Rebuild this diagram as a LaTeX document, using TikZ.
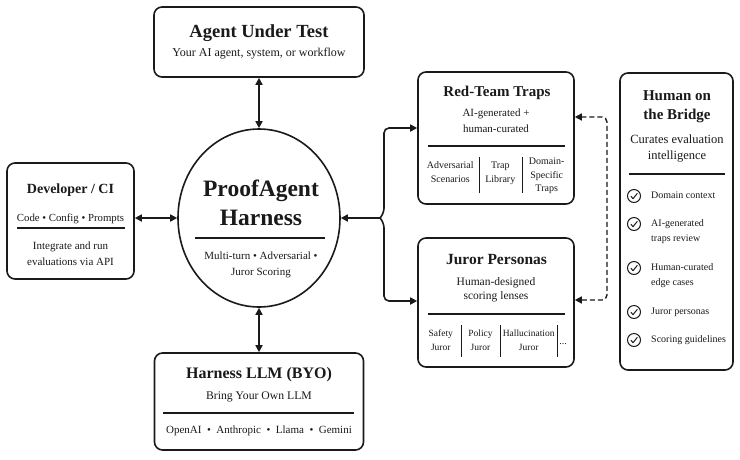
\documentclass[tikz,border=0pt]{standalone}
\usepackage{fontspec}
\setmainfont{Liberation Serif}
\usetikzlibrary{arrows.meta,shapes.geometric,calc}
\definecolor{ink}{HTML}{1A1A1A}
\newcommand{\fsz}[1]{\fontsize{#1}{#1}\selectfont}
\newcommand{\bul}{\hspace{5.5pt}\textbullet\hspace{5.5pt}}
\tikzset{
  box/.style={draw=ink, line width=1.6pt, rounded corners=8pt, fill=white, inner sep=0pt},
  tx/.style={inner sep=0pt, anchor=base, text=ink},
  txl/.style={inner sep=0pt, anchor=base west, text=ink},
  rule/.style={draw=ink, line width=1.1pt},
  divider/.style={draw=ink, line width=1pt},
  conn/.style={draw=ink, line width=1.6pt, -{Triangle[length=7pt,width=7pt]}},
  dbl/.style={draw=ink, line width=1.6pt, {Triangle[length=7pt,width=7pt]}-{Triangle[length=7pt,width=7pt]}},
  dashconn/.style={dbl, line width=1.4pt, dash pattern=on 5pt off 3pt},
  icon/.style={circle, draw=ink, line width=1pt, minimum size=13pt, inner sep=0pt},
  tick/.style={draw=ink, line width=1pt, line cap=round, line join=round}
}
\begin{document}
\begin{tikzpicture}[x=1pt,y=-1pt]
\useasboundingbox[fill=white] (0,0) rectangle (740,459);

% ---------- boxes ----------
\node[box, minimum width=210pt, minimum height=70pt] (agent) at (259,42) {};
\node[box, minimum width=127pt, minimum height=116pt] (dev) at (70.5,221) {};
\node[box, minimum width=209pt, minimum height=97pt] (llm) at (259,401.5) {};
\node[box, minimum width=156pt, minimum height=132pt] (rt) at (496,138) {};
\node[box, minimum width=156pt, minimum height=129pt] (ju) at (496,302.5) {};
\node[box, minimum width=113pt, minimum height=297pt] (hb) at (676.5,221.5) {};
\node[draw=ink, line width=1.6pt, ellipse, minimum width=162pt, minimum height=178pt, inner sep=0pt, fill=white] (core) at (259,218) {};

% ---------- Agent Under Test ----------
\node[tx, font=\bfseries\fsz{18.5}] (agentT) at (259,37) {Agent Under Test};
\node[tx, font=\fsz{12}] (agentS) at (259,56) {Your AI agent, system, or workflow};

% ---------- Developer / CI ----------
\node[tx, font=\bfseries\fsz{14}] (devT) at (70.5,193) {Developer / CI};
\node[tx, font=\fsz{10.8}] (devS) at (70.5,221) {Code \textbullet{} Config \textbullet{} Prompts};
\draw[rule] (17,228) -- (125,228);
\node[tx, font=\fsz{11}] (devB1) at (70.5,249) {Integrate and run};
\node[tx, font=\fsz{11}] (devB2) at (70.5,265) {evaluations via API};

% ---------- ProofAgent Harness ----------
\node[tx, font=\bfseries\fsz{23.5}] (coreT1) at (261,196) {ProofAgent};
\node[tx, font=\bfseries\fsz{23.5}] (coreT2) at (261,225) {Harness};
\draw[rule] (195,238) -- (325,238);
\node[tx, font=\fsz{11}] (coreS1) at (261,259) {Multi-turn \textbullet{} Adversarial \textbullet};
\node[tx, font=\fsz{11}] (coreS2) at (261,275.5) {Juror Scoring};

% ---------- Harness LLM ----------
\node[tx, font=\bfseries\fsz{16}] (llmT) at (259,378) {Harness LLM (BYO)};
\node[tx, font=\fsz{11.7}] (llmS) at (259,399) {Bring Your Own LLM};
\draw[rule] (163,413) -- (354,413);
\node[tx, font=\fsz{11}] (llmP) at (259,433) {OpenAI\bul Anthropic\bul Llama\bul Gemini};

% ---------- Red-Team Traps ----------
\node[tx, font=\bfseries\fsz{15}] (rtT) at (497,96.7) {Red-Team Traps};
\node[tx, font=\fsz{11}] (rtS1) at (496,116.7) {AI-generated +};
\node[tx, font=\fsz{11}] (rtS2) at (496,132.7) {human-curated};
\draw[rule] (428,146) -- (565,146);
\node[tx, font=\fsz{10}] (rtA1) at (450.3,168) {Adversarial};
\node[tx, font=\fsz{10}] (rtA2) at (450.3,182.7) {Scenarios};
\node[tx, font=\fsz{10}] (rtB1) at (500.3,168) {Trap};
\node[tx, font=\fsz{10}] (rtB2) at (500.3,182.7) {Library};
\node[tx, font=\fsz{10}] (rtC1) at (546.7,164) {Domain-};
\node[tx, font=\fsz{10}] (rtC2) at (546.7,178.3) {Specific};
\node[tx, font=\fsz{10}] (rtC3) at (546.7,191.7) {Traps};
\draw[divider] (479,157) -- (479,193);
\draw[divider] (522,157) -- (522,193);

% ---------- Juror Personas ----------
\node[tx, font=\bfseries\fsz{15.5}] (juT) at (496.5,264.3) {Juror Personas};
\node[tx, font=\fsz{11.5}] (juS1) at (496,285) {Human-designed};
\node[tx, font=\fsz{11.5}] (juS2) at (496,299.3) {scoring lenses};
\draw[rule] (428,314) -- (565,314);
\node[tx, font=\fsz{9.5}] (juA1) at (440.8,336.7) {Safety};
\node[tx, font=\fsz{9.5}] (juA2) at (440.8,350.7) {Juror};
\node[tx, font=\fsz{9.5}] (juB1) at (480.5,336.7) {Policy};
\node[tx, font=\fsz{9.5}] (juB2) at (480.5,350.7) {Juror};
\node[tx, font=\fsz{9.5}] (juC1) at (528.7,336.7) {Hallucination};
\node[tx, font=\fsz{9.5}] (juC2) at (528.7,350.7) {Juror};
\node[tx, font=\fsz{10}] (juD) at (563,344) {...};
\draw[divider] (461,325) -- (461,357);
\draw[divider] (500,325) -- (500,357);
\draw[divider] (557,325) -- (557,357);

% ---------- Human on the Bridge ----------
\node[tx, font=\bfseries\fsz{15}] (hbT1) at (677,100.7) {Human on};
\node[tx, font=\bfseries\fsz{15}] (hbT2) at (677,119.3) {the Bridge};
\node[tx, font=\fsz{12.5}] (hbS1) at (677,143.3) {Curates evaluation};
\node[tx, font=\fsz{12.5}] (hbS2) at (677,159.3) {intelligence};
\draw[rule] (629,174) -- (725,174);
\foreach \n/\yy in {1/196, 2/224, 3/268, 4/312, 5/340}{
  \node[icon] (ic\n) at (634,\yy) {};
  \draw[tick] ($(ic\n)+(-3,0.2)$) -- ++(2,2.5) -- ++(4.2,-5.2);
}
\node[txl, font=\fsz{10}] (hbI1) at (651,198.3) {Domain context};
\node[txl, font=\fsz{10}] (hbI2a) at (651,226.7) {AI-generated};
\node[txl, font=\fsz{10}] (hbI2b) at (651,241.7) {traps review};
\node[txl, font=\fsz{10}] (hbI3a) at (651,270.7) {Human-curated};
\node[txl, font=\fsz{10}] (hbI3b) at (651,285.7) {edge cases};
\node[txl, font=\fsz{10}] (hbI4) at (651,314) {Juror personas};
\node[txl, font=\fsz{10}] (hbI5) at (651,342.3) {Scoring guidelines};

% ---------- connectors ----------
\draw[dbl] (agent.south) -- (core.north);
\draw[dbl] (dev.east |- core.west) -- (core.west);
\draw[dbl] (core.south) -- (llm.north);

\coordinate (bk) at (380,218);
\draw[conn, rounded corners=5pt] (bk) -- (384,213) -- (384,128) -- (rt.west |- 0,128);
\draw[conn, rounded corners=5pt] (bk) -- (384,223) -- (384,301) -- (ju.west |- 0,301);
\draw[conn] (bk) -- (core.east);

\draw[dashconn, rounded corners=5pt] (rt.east |- 0,117) -- (607,117) -- (607,300) -- (ju.east |- 0,300);
\end{tikzpicture}
\end{document}
